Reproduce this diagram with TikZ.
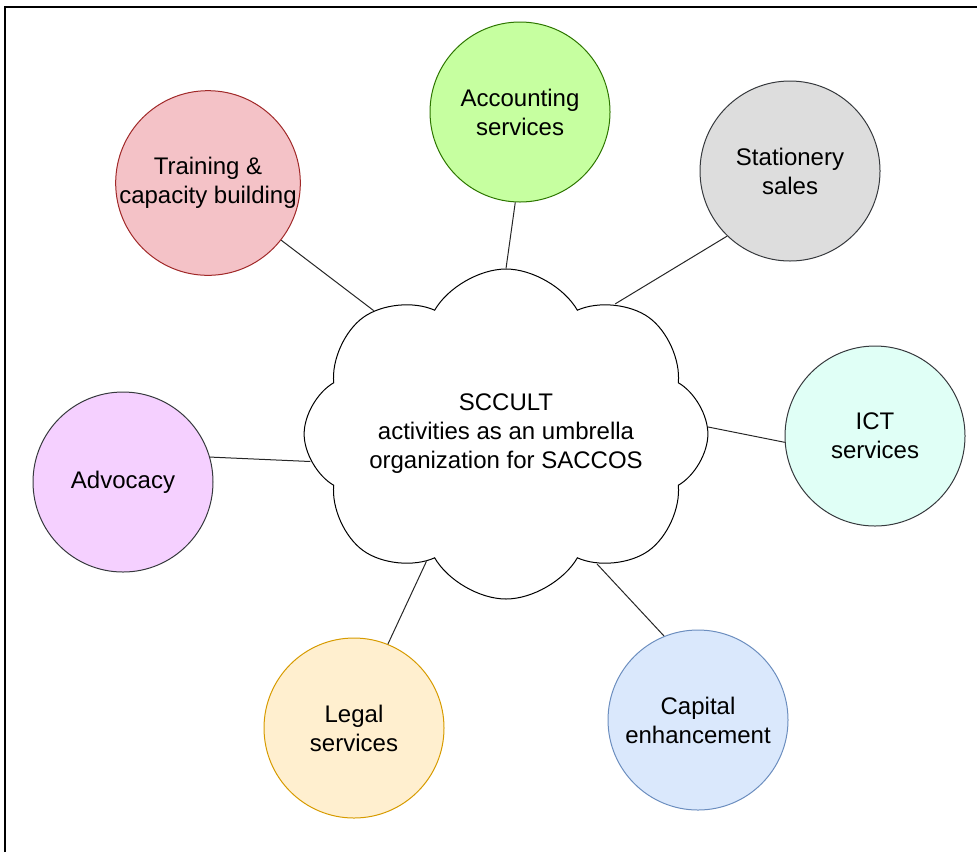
\documentclass[tikz,border=0pt]{standalone}
\usepackage{fontspec}
\setmainfont{Liberation Sans}
\usetikzlibrary{shapes.symbols}
\definecolor{trainfill}{RGB}{244,194,199}
\definecolor{trainline}{RGB}{160,40,40}
\definecolor{accfill}{RGB}{198,255,160}
\definecolor{accline}{RGB}{45,118,0}
\definecolor{statfill}{RGB}{221,221,221}
\definecolor{ictfill}{RGB}{224,255,246}
\definecolor{advfill}{RGB}{245,208,255}
\definecolor{capfill}{RGB}{218,232,252}
\definecolor{capline}{RGB}{108,142,191}
\definecolor{legalfill}{RGB}{255,239,207}
\definecolor{legalline}{RGB}{215,155,0}
\definecolor{darkline}{RGB}{54,57,61}

\begin{document}
\begin{tikzpicture}[
    x=0.5pt, y=-0.5pt,
    every node/.style={font=\fontsize{12}{14.5}\selectfont, align=center},
    topic/.style={circle, draw, minimum size=90pt, inner sep=0pt, line width=0.5pt},
    link/.style={draw=black!85, line width=0.5pt}
]
\useasboundingbox (0,0) rectangle (977,852);
\draw[line width=0.8pt] (5,852) -- (5,7) -- (977,7);

% centre of the map
\node[cloud, draw, cloud puffs=8, cloud puff arc=120, cloud ignores aspect,
    minimum width=175pt, minimum height=165pt, line width=0.5pt] (core) at (506,434)
    {SCCULT\\activities as an umbrella\\organization for SACCOS};

% activities round it
\node[topic, fill=trainfill, draw=trainline] (train) at (208,183) {Training \&\\capacity building};
\node[topic, fill=accfill, draw=accline] (acc) at (520,112) {Accounting\\services};
\node[topic, fill=statfill, draw=darkline] (stat) at (790,171) {Stationery\\sales};
\node[topic, fill=ictfill, draw=darkline] (ict) at (875,436) {ICT\\services};
\node[topic, fill=capfill, draw=capline] (cap) at (698,720) {Capital\\enhancement};
\node[topic, fill=legalfill, draw=legalline] (legal) at (354,728) {Legal\\services};
\node[topic, fill=advfill, draw=darkline] (adv) at (123,482) {Advocacy};

\path[link] (train.-38) -- (core.137);
\path[link] (acc.-93) -- (core.90);
\path[link] (stat.-134) -- (core.50);
\path[link] (ict.184) -- (core.2);
\path[link] (cap.112) -- (core.-55);
\path[link] (legal.68) -- (core.-122);
\path[link] (adv.16) -- (core.188);
\end{tikzpicture}
\end{document}
